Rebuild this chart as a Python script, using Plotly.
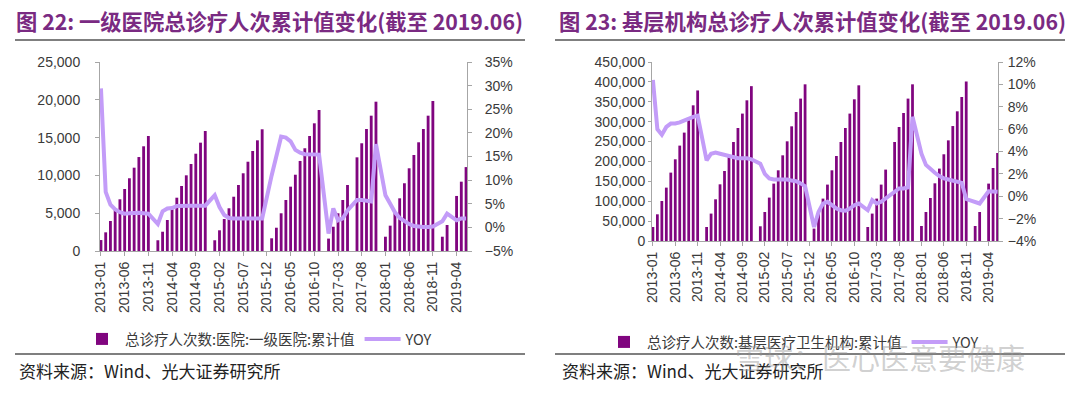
import plotly.graph_objects as go

# ---------------- data ----------------
years = [2013, 2014, 2015, 2016, 2017, 2018, 2019]
months_in_2019 = 6
categories = [f"{y}-{m:02d}" for y in years for m in range(1, 13)
              if not (y == 2019 and m > months_in_2019)]
tick_labels = ["2013-01", "2013-06", "2013-11", "2014-04", "2014-09", "2015-02",
               "2015-07", "2015-12", "2016-05", "2016-10", "2017-03", "2017-08",
               "2018-01", "2018-06", "2018-11", "2019-04"]

# Chart 22: 一级医院 总诊疗人次 累计值 (万人次), Jan..Nov (Dec not reported)
l_bar_2013 = [1450, 2470, 3970, 5420, 6840, 8200, 9620, 11020, 12430, 13850, 15210]
l_bar_2014 = [1420, 2550, 4100, 5500, 7050, 8600, 10010, 11510, 12870, 14330, 15870]
l_bar_2015 = [1420, 2740, 4230, 5650, 7180, 8730, 10280, 11810, 13230, 14640, 16100]
l_bar_2016 = [1680, 3080, 4990, 6750, 8510, 10090, 11910, 13590, 15210, 16890, 18650]
l_bar_2017 = [1640, 3210, 4990, 6750, 8730, None, 12390, 14250, 16140, 17900, 19750]
l_bar_2018 = [1890, 3350, 5200, 6970, 8960, 10940, 12700, 14380, 16140, 17900, 19840]
l_bar_2019 = [1890, 3440, None, 7280, 9170, 11100]

l_yoy_2013 = [29.4, 7.5, 4.8, 3.8, 3.2, 2.9, 3.0, 3.1, 3.1, 3.0, 2.9]
l_yoy_2014 = [0.7, 3.4, 4.0, 4.1, 4.5, 4.6, 4.6, 4.6, 4.6, 4.6, 4.6]
l_yoy_2015 = [6.8, 4.3, 2.6, 2.0, 1.9, 1.9, 1.9, 1.9, 1.9, 1.9, 1.9]
l_yoy_2016 = [11.0, 15.5, 19.2, 19.0, 18.2, 16.4, 15.8, 15.5, 15.4, 15.4, 15.4]
l_yoy_2017 = [-1.3, 4.0, 1.5, 1.9, 3.6, None, 5.8, 5.8, 5.7, 5.5, 17.6]
l_yoy_2018 = [6.8, 5.0, 3.2, 2.0, 1.3, 0.7, 0.3, 0.1, 0.1, 0.1, 0.2]
l_yoy_2019 = [1.3, 2.9, None, 1.5, 1.9, 1.9]

# Chart 23: 基层医疗卫生机构 总诊疗人次 累计值 (万人次)
r_bar_2013 = [35200, 67100, 100600, 134200, 171900, 205400, 239800, 272500, 303400, 341100, 378500]
r_bar_2014 = [35200, 68900, 104800, 142500, 176000, 215400, 248900, 284100, 320300, 353700, 389300]
r_bar_2015 = [37000, 72900, 109100, 144300, 177700, 215400, 250600, 288300, 324300, 358000, 393900]
r_bar_2016 = [31200, 68900, 106600, 141800, 177700, 213700, 248900, 284100, 320300, 356200, 391400]
r_bar_2017 = [35200, 68900, 106600, 141800, 179500, None, 248900, 286600, 321800, 358000, 393900]
r_bar_2018 = [37700, 72900, 108100, 145000, 182000, 218000, 253000, 289000, 326000, 362000, 401000]
r_bar_2019 = [37700, 72900, None, 144300, 183500, 221200]

r_yoy_2013 = [10.4, 6.0, 5.5, 6.2, 6.5, 6.5, 6.6, 6.8, 6.9, 7.1, 7.2]
r_yoy_2014 = [3.2, 3.8, 3.9, 3.8, 3.7, 3.6, 3.5, 3.4, 3.4, 3.4, 3.3]
r_yoy_2015 = [2.9, 2.0, 1.6, 1.5, 1.5, 1.5, 1.5, 1.4, 1.35, 1.15, 0.9]
r_yoy_2016 = [-2.75, -1.4, -0.65, -0.5, -0.8, -1.1, -1.25, -1.3, -1.1, -0.8, -0.65]
r_yoy_2017 = [-1.25, -0.35, -0.65, -0.5, -0.2, None, 0.5, 0.7, 0.7, 0.8, 7.1]
r_yoy_2018 = [3.8, 2.8, 2.4, 2.1, 1.8, 1.6, 1.5, 1.4, 1.3, 1.2, -0.25]
r_yoy_2019 = [-0.5, -0.65, None, 0.45, 0.4, 0.4]


def monthly(*year_lists):
    """Join Jan..Nov lists, leaving the unreported December slot empty."""
    out = []
    for i, lst in enumerate(year_lists):
        out.extend(lst)
        if i < len(year_lists) - 1:
            out.append(None)
    return out


l_bar = monthly(l_bar_2013, l_bar_2014, l_bar_2015, l_bar_2016, l_bar_2017, l_bar_2018, l_bar_2019)
l_yoy = monthly(l_yoy_2013, l_yoy_2014, l_yoy_2015, l_yoy_2016, l_yoy_2017, l_yoy_2018, l_yoy_2019)
r_bar = monthly(r_bar_2013, r_bar_2014, r_bar_2015, r_bar_2016, r_bar_2017, r_bar_2018, r_bar_2019)
r_yoy = monthly(r_yoy_2013, r_yoy_2014, r_yoy_2015, r_yoy_2016, r_yoy_2017, r_yoy_2018, r_yoy_2019)

# ---------------- style ----------------
W, H = 1080, 393
BAR = "#80057F"
LINE = "#C39CF8"
TITLE = "#7A2A82"
AX = "#A6A6A6"
TXT = "#3A3A3A"
RULE = "#555555"
SANS = "Liberation Sans, Arial, sans-serif"
CJK = "Noto Sans CJK SC, sans-serif"


def px(x):
    return x / W


def py(y):
    return 1 - y / H


fig = go.Figure()
fig.add_trace(go.Bar(x=categories, y=l_bar, name="总诊疗人次数:医院:一级医院:累计值",
                     marker=dict(color=BAR, line=dict(width=0)), width=0.6,
                     xaxis="x", yaxis="y", legend="legend"))
fig.add_trace(go.Scatter(x=categories, y=l_yoy, name="YOY", mode="lines",
                         line=dict(color=LINE, width=4), connectgaps=True,
                         xaxis="x", yaxis="y2", legend="legend"))
fig.add_trace(go.Bar(x=categories, y=r_bar, name="总诊疗人次数:基层医疗卫生机构:累计值",
                     marker=dict(color=BAR, line=dict(width=0)), width=0.62,
                     xaxis="x2", yaxis="y3", legend="legend2"))
fig.add_trace(go.Scatter(x=categories, y=r_yoy, name="YOY", mode="lines",
                         line=dict(color=LINE, width=4), connectgaps=True,
                         xaxis="x2", yaxis="y4", legend="legend2"))

xcommon = dict(type="category", tickmode="array", tickvals=tick_labels, ticktext=tick_labels,
               tickangle=-90, showline=True, linecolor=AX, linewidth=1, ticks="outside",
               ticklen=4, tickcolor=AX, showgrid=False, zeroline=False, automargin=False,
               tickfont=dict(family=SANS, size=14, color=TXT))
ycommon = dict(showline=True, linecolor=AX, linewidth=1, ticks="outside", ticklen=4,
               tickcolor=AX, showgrid=False, zeroline=False, automargin=False,
               tickfont=dict(family=SANS, size=14, color=TXT))

shapes = []
for (x0, x1) in ((15, 525), (555, 1065)):
    for yy in (40, 354):
        shapes.append(dict(type="rect", xref="paper", yref="paper",
                           x0=px(x0), x1=px(x1), y0=py(yy + 0.8), y1=py(yy - 0.8),
                           fillcolor=RULE, line=dict(width=0), layer="above", opacity=1))

fig.update_layout(
    width=W, height=H, margin=dict(l=0, r=0, t=0, b=0, pad=0, autoexpand=False),
    paper_bgcolor="white", plot_bgcolor="white", barmode="overlay",
    xaxis=dict(xcommon, domain=[px(100), px(467)], anchor="y", range=[-0.2, 77.2]),
    yaxis=dict(ycommon, domain=[py(251), py(62)], range=[0, 25000], dtick=5000,
               tickformat=",", ticklabelstandoff=12),
    yaxis2=dict(ycommon, overlaying="y", side="right", anchor="x", range=[-5, 35], dtick=5,
                ticksuffix="%", ticklabelstandoff=10),
    xaxis2=dict(xcommon, domain=[px(652), px(998)], anchor="y3", range=[-0.2, 77.1]),
    yaxis3=dict(ycommon, domain=[py(241), py(62)], range=[0, 450000], dtick=50000,
                tickformat=",", anchor="x2", ticklen=3, ticklabelstandoff=0),
    yaxis4=dict(ycommon, overlaying="y3", side="right", anchor="x2", range=[-4, 12], dtick=2,
                ticksuffix="%", ticklabelstandoff=2),
    legend=dict(orientation="h", x=px(79), y=py(323), xanchor="left", yanchor="top",
                font=dict(family=CJK, size=14.5, color=TXT), bgcolor="rgba(0,0,0,0)",
                itemwidth=36, tracegroupgap=0),
    legend2=dict(orientation="h", x=px(601), y=py(326), xanchor="left", yanchor="top",
                 font=dict(family=CJK, size=14.5, color=TXT), bgcolor="rgba(0,0,0,0)",
                 itemwidth=36, tracegroupgap=0),
    showlegend=True,
    shapes=shapes,
)

# titles
fig.add_annotation(text="<b>图 22: 一级医院总诊疗人次累计值变化(截至 2019.06)</b>",
                   x=px(14), y=py(21), xref="paper", yref="paper", xanchor="left",
                   yanchor="middle", showarrow=False,
                   font=dict(family=CJK, size=21.3, color=TITLE))
fig.add_annotation(text="<b>图 23: 基层机构总诊疗人次累计值变化(截至 2019.06)</b>",
                   x=px(557), y=py(21), xref="paper", yref="paper", xanchor="left",
                   yanchor="middle", showarrow=False,
                   font=dict(family=CJK, size=21.3, color=TITLE))
# sources
for x0 in (17, 560):
    fig.add_annotation(text="资料来源：Wind、光大证券研究所",
                       x=px(x0), y=py(370), xref="paper", yref="paper", xanchor="left",
                       yanchor="middle", showarrow=False,
                       font=dict(family=CJK, size=17, color="#222222"))

# watermark
fig.add_annotation(text="雪球：医心医意要健康", x=px(733), y=py(357), xref="paper",
                   yref="paper", xanchor="left", yanchor="middle", showarrow=False,
                   font=dict(family=CJK, size=29, color="rgba(150,150,150,0.45)"))

fig.write_html("out.html", config={"displayModeBar": False},
               post_script="document.body.style.margin='0';document.body.style.overflow='hidden';")
